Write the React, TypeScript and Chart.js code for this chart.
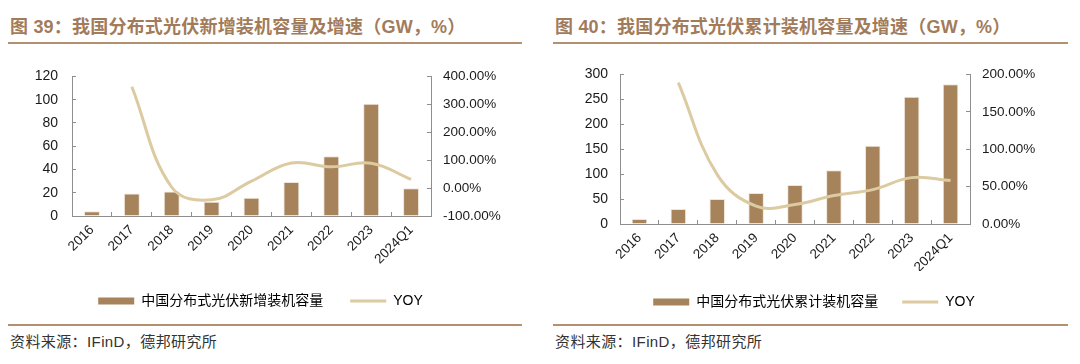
import React, { useEffect, useRef } from "react";
import { Chart, registerables } from "chart.js";

Chart.register(...registerables);

// ---------- data ----------
const categories = ["2016", "2017", "2018", "2019", "2020", "2021", "2022", "2023", "2024Q1"];

// Figure 39: newly installed distributed PV (GW) and YoY (%)
const newCapacity = [4.0, 19.4, 21.1, 12.2, 15.6, 29.3, 51.3, 96.4, 23.8];
const newYoy = [null, 363, 3, -42, 25, 90, 76, 89, 31];

// Figure 40: cumulative distributed PV (GW) and YoY (%)
const cumCapacity = [10, 30, 50, 62, 78, 108, 157, 255, 280];
const cumYoy = [null, 189, 66, 24, 26, 38, 46, 62, 58];

const newLeftTicks = [0, 120, 20];
const newRightTicks = [-100, 400, 100];
const cumLeftTicks = [0, 300, 50];
const cumRightTicks = [0, 200, 50];

const BAR_COLOR = "#a6835b";
const LINE_COLOR = "#dccaa0";
const TITLE_COLOR = "#a27b5b";
const RULE_COLOR = "#b3906f";
const AXIS_COLOR = "#8e8e8e";
const TEXT_COLOR = "#1a1a1a";
const FONT = "'Liberation Sans', Arial, 'Noto Sans CJK SC', sans-serif";

type PanelProps = {
  left: number;
  top: number;
  width: number;
  height: number;
  bars: number[];
  yoy: (number | null)[];
  barLabel: string;
  leftTicks: number[];
  rightTicks: number[];
  yLeftWidth: number;
  yRightWidth: number;
  xHeight: number;
  padTop: number;
  leftPad: number;
  rightPad: number;
  legendGap: number;
};

function ChartPanel(p: PanelProps) {
  const ref = useRef<HTMLCanvasElement | null>(null);
  useEffect(() => {
    if (!ref.current) return;
    const chart = new Chart(ref.current, {
      type: "bar",
      data: {
        labels: categories,
        datasets: [
          {
            type: "bar",
            label: p.barLabel,
            data: p.bars,
            backgroundColor: BAR_COLOR,
            borderColor: "#efe6da",
            borderWidth: 1,
            barPercentage: 0.4,
            categoryPercentage: 1,
            yAxisID: "y",
            order: 1,
          },
          {
            type: "line",
            label: "YOY",
            data: p.yoy,
            borderColor: LINE_COLOR,
            backgroundColor: LINE_COLOR,
            borderWidth: 3,
            pointRadius: 0,
            tension: 0.4,
            yAxisID: "y1",
            order: 0,
          },
        ],
      } as any,
      options: {
        responsive: false,
        animation: false,
        devicePixelRatio: 1,
        layout: { padding: { top: p.padTop, left: 0, right: 0, bottom: 0 } },
        plugins: {
          tooltip: { enabled: false },
          legend: {
            position: "bottom",
            labels: {
              usePointStyle: true,
              pointStyleWidth: 36,
              boxHeight: 7,
              padding: p.legendGap,
              color: TEXT_COLOR,
              font: { family: FONT, size: 14 },
              generateLabels: () => [
                {
                  text: p.barLabel,
                  fillStyle: BAR_COLOR,
                  strokeStyle: BAR_COLOR,
                  lineWidth: 0,
                  pointStyle: "rect",
                  datasetIndex: 0,
                  hidden: false,
                },
                {
                  text: "YOY",
                  fillStyle: LINE_COLOR,
                  strokeStyle: LINE_COLOR,
                  lineWidth: 3,
                  pointStyle: "line",
                  datasetIndex: 1,
                  hidden: false,
                },
              ] as any,
            },
          },
        },
        scales: {
          x: {
            offset: true,
            grid: {
              display: true,
              drawOnChartArea: false,
              offset: true,
              tickLength: -4,
              color: AXIS_COLOR,
            },
            border: { display: true, color: AXIS_COLOR },
            ticks: {
              autoSkip: false,
              maxRotation: 45,
              minRotation: 45,
              padding: 10,
              color: TEXT_COLOR,
              font: { family: FONT, size: 13.5 },
            },
            afterFit: (s: any) => {
              s.height = p.xHeight;
            },
          },
          y: {
            position: "left",
            min: p.leftTicks[0],
            max: p.leftTicks[1],
            grid: { display: true, drawOnChartArea: false, tickLength: -4, color: AXIS_COLOR },
            border: { display: true, color: AXIS_COLOR },
            ticks: {
              stepSize: p.leftTicks[2],
              padding: p.leftPad,
              color: TEXT_COLOR,
              font: { family: FONT, size: 14 },
            },
            afterFit: (s: any) => {
              s.width = p.yLeftWidth;
            },
          },
          y1: {
            position: "right",
            min: p.rightTicks[0],
            max: p.rightTicks[1],
            grid: { display: true, drawOnChartArea: false, tickLength: -4, color: AXIS_COLOR },
            border: { display: true, color: AXIS_COLOR },
            ticks: {
              stepSize: p.rightTicks[2],
              padding: p.rightPad,
              color: TEXT_COLOR,
              font: { family: FONT, size: 13.5 },
              callback: (v: any) => Number(v).toFixed(2) + "%",
            },
            afterFit: (s: any) => {
              s.width = p.yRightWidth;
            },
          },
        },
      } as any,
    });
    return () => chart.destroy();
  }, []);
  return (
    <canvas
      ref={ref}
      width={p.width}
      height={p.height}
      style={{ position: "absolute", left: p.left, top: p.top, width: p.width, height: p.height }}
    />
  );
}

function Title({ left, num, text }: { left: number; num: string; text: string }) {
  return (
    <div
      style={{
        position: "absolute",
        left,
        top: 17,
        height: 21,
        lineHeight: "21px",
        fontSize: 18,
        fontWeight: 700,
        color: TITLE_COLOR,
        fontFamily: FONT,
        whiteSpace: "nowrap",
        letterSpacing: "0.2px",
      }}
    >
      图 {num}：{text}（GW，%）
    </div>
  );
}

function Rule({ left, top, width }: { left: number; top: number; width: number }) {
  return (
    <div style={{ position: "absolute", left, top, width, height: 2, background: RULE_COLOR }} />
  );
}

function Source({ left }: { left: number }) {
  return (
    <div
      style={{
        position: "absolute",
        left,
        top: 333,
        height: 18,
        lineHeight: "18px",
        fontSize: 15,
        color: "#333",
        fontFamily: FONT,
        whiteSpace: "nowrap",
        letterSpacing: "0.4px",
      }}
    >
      资料来源：IFinD，德邦研究所
    </div>
  );
}

export default function App() {
  return (
    <div
      style={{
        position: "absolute",
        left: 0,
        top: 0,
        width: 1080,
        height: 364,
        background: "#fff",
        overflow: "hidden",
      }}
    >
      <Title left={10} num="39" text="我国分布式光伏新增装机容量及增速" />
      <Title left={555} num="40" text="我国分布式光伏累计装机容量及增速" />
      <Rule left={8} top={42} width={514} />
      <Rule left={553} top={42} width={515} />
      <ChartPanel
        left={8}
        top={50}
        width={505}
        height={268}
        bars={newCapacity}
        yoy={newYoy}
        barLabel="中国分布式光伏新增装机容量"
        leftTicks={newLeftTicks}
        rightTicks={newRightTicks}
        yLeftWidth={64}
        yRightWidth={82}
        xHeight={51}
        padTop={14.5}
        leftPad={18}
        rightPad={16}
        legendGap={27}
      />
      <ChartPanel
        left={553}
        top={50}
        width={522}
        height={269}
        bars={cumCapacity}
        yoy={cumYoy}
        barLabel="中国分布式光伏累计装机容量"
        leftTicks={cumLeftTicks}
        rightTicks={cumRightTicks}
        yLeftWidth={67}
        yRightWidth={105}
        xHeight={47}
        padTop={13.7}
        leftPad={16}
        rightPad={16}
        legendGap={24}
      />
      <Rule left={8} top={324} width={514} />
      <Rule left={553} top={324} width={515} />
      <Source left={10} />
      <Source left={555} />
    </div>
  );
}
